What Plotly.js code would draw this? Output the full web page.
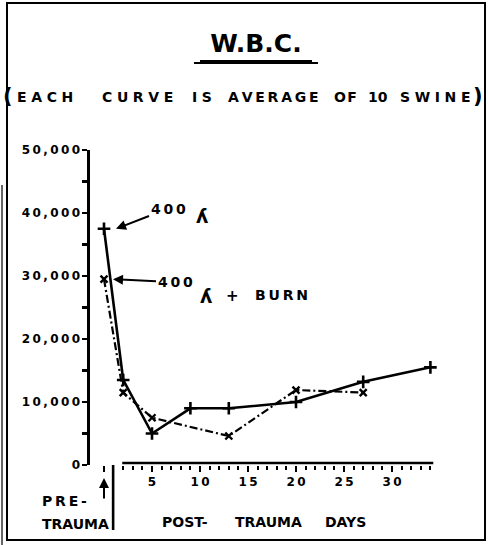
<!DOCTYPE html>
<html>
<head>
<meta charset="utf-8">
<script src="https://cdn.plot.ly/plotly-3.0.1.min.js"></script>
<style>html,body{margin:0;padding:0;background:#fff;}#chart{width:488px;height:545px;}</style>
</head>
<body>
<div id="chart"></div>
<script>
// ---- data ----
const days400r = [0, 2, 5, 9, 13, 20, 27, 34];
const wbc400r = [37500, 13500, 5000, 9000, 9000, 10000, 13200, 15500];
const daysBurn = [0, 2, 5, 13, 20, 27];
const wbcBurn = [29500, 11500, 7500, 4600, 11900, 11500];
const yTickVals = [0, 10000, 20000, 30000, 40000, 50000];
const yTickText = ['0', '10,000', '20,000', '30,000', '40,000', '50,000'];
const yMinorVals = [5000, 15000, 25000, 35000, 45000];
const xTickVals = [0, 5, 10, 15, 20, 25, 30];
const xTickText = ['', '5', '10', '15', '20', '25', '30'];
const xMinorVals = [2,3,4,5,6,7,8,9,10,11,12,13,14,15,16,17,18,19,20,21,22,23,24,25,26,27,28,29,30,31,32,33,34];
const titleText = 'W.B.C.';
const subtitleWords = ['EACH', 'CURVE', 'IS', 'AVERAGE', 'OF', '10', 'SWINE'];
const label400 = '400';
const unitR = 'ʎ';
const burnText = 'BURN';
const xAxisWords = ['POST-', 'TRAUMA', 'DAYS'];
const preWords = ['PRE-', 'TRAUMA'];

// ---- layout helpers (pixel -> paper) ----
const L = 90, T = 150, W = 360, H = 315;
const PX = x => (x - L) / W;
const PY = y => (T + H - y) / H;
const gap = ch => s => s.split('').join(ch);
const thin = gap('\u2009');
const third = gap('\u2004');
const hair = gap('\u200A');
const none = s => s;
const FONT = 'DejaVu Sans';
const bold = s => '<b>' + s + '</b>';

const traces = [
  {
    x: days400r, y: wbc400r, type: 'scatter', mode: 'lines+markers',
    line: {color: '#000', width: 2.6},
    marker: {symbol: 'cross-thin', size: 9, color: '#000', line: {color: '#000', width: 2.6}},
    cliponaxis: false, showlegend: false, hoverinfo: 'skip'
  },
  {
    x: daysBurn, y: wbcBurn, type: 'scatter', mode: 'lines+markers',
    line: {color: '#000', width: 2.2, dash: '8px,3px,2px,3px'},
    marker: {symbol: 'x-thin', size: 7, color: '#000', line: {color: '#000', width: 2.4}},
    cliponaxis: false, showlegend: false, hoverinfo: 'skip'
  }
];

const annotations = [];
function txt(text, px, py, size, anchor) {
  annotations.push({
    text: bold(text), xref: 'paper', yref: 'paper', x: PX(px), y: PY(py),
    xanchor: anchor || 'center', yanchor: 'middle', showarrow: false, borderpad: 0,
    font: {family: FONT, size: size, color: '#000'}
  });
}
// subtitle
const subCenters = [45, 137, 202, 273, 345, 378, 435];
const subSpacing = [third, third, third, thin, hair, none, third];
subtitleWords.forEach((w, i) => txt(subSpacing[i](w), subCenters[i], 97, 14));
txt('(', 8, 96, 21);
txt(')', 478, 96, 21);
// bottom labels
txt(xAxisWords[0], 185, 522, 14);
txt(xAxisWords[1], 268, 522, 14);
txt(xAxisWords[2], 345, 522, 14);
txt(thin(preWords[0]), 41, 501, 14, 'left');
txt(preWords[1], 41, 524, 14, 'left');
// curve labels with arrows
annotations.push({
  text: bold(thin(label400)), x: days400r[0], y: wbc400r[0], xref: 'x', yref: 'y',
  ax: 165 - 113, ay: 207 - 227, xshift: 12, showarrow: true, arrowhead: 2, arrowsize: 1,
  arrowwidth: 2, arrowcolor: '#000', font: {family: FONT, size: 14, color: '#000'}
});
annotations.push({
  text: bold(thin(label400)), x: daysBurn[0], y: wbcBurn[0], xref: 'x', yref: 'y',
  ax: 172 - 110, ay: 286 - 283, xshift: 9, showarrow: true, arrowhead: 2, arrowsize: 1,
  arrowwidth: 2, arrowcolor: '#000', font: {family: FONT, size: 14, color: '#000'}
});
txt(unitR, 202, 216, 19);
txt(unitR, 206, 296, 19);
txt('+', 232, 296, 15);
txt(thin(burnText), 281, 295, 14);
// pre-trauma up arrow
annotations.push({
  text: '', x: 0, y: PY(478), xref: 'x', yref: 'paper', ax: 0, ay: 22,
  showarrow: true, arrowhead: 2, arrowsize: 1, arrowwidth: 2, arrowcolor: '#000'
});

const shapes = [
  // x-axis baseline (post-trauma only)
  {type: 'line', xref: 'x', yref: 'paper', x0: 1.9, x1: 34.3, y0: PY(463), y1: PY(463), line: {color: '#000', width: 2.6}},
  // separator between pre and post trauma
  {type: 'line', xref: 'x', yref: 'paper', x0: 0.95, x1: 0.95, y0: PY(465), y1: PY(530), line: {color: '#000', width: 2.6}},
  // title underline
  {type: 'line', xref: 'paper', yref: 'paper', x0: PX(194), x1: PX(318), y0: PY(63), y1: PY(63), line: {color: '#000', width: 2}},
  {type: 'line', xref: 'paper', yref: 'paper', x0: PX(200), x1: PX(312), y0: PY(62), y1: PY(62), line: {color: '#000', width: 4}},
  // frame
  {type: 'rect', xref: 'paper', yref: 'paper', x0: PX(7), x1: PX(485), y0: PY(3), y1: PY(540), line: {color: '#000', width: 2}},
  {type: 'line', xref: 'paper', yref: 'paper', x0: PX(2), x1: PX(2), y0: PY(185), y1: PY(545), line: {color: '#333', width: 1.5}}
];

const layout = {
  width: 488, height: 545,
  margin: {l: L, r: 488 - L - W, t: T, b: 545 - T - H, pad: 0},
  paper_bgcolor: '#fff', plot_bgcolor: '#fff',
  showlegend: false,
  title: {
    text: bold(titleText), x: 256 / 488, xanchor: 'center', xref: 'container',
    y: 1 - 43 / 545, yanchor: 'middle', yref: 'container',
    font: {family: FONT, size: 25, color: '#000'}
  },
  xaxis: {
    range: [-14 / 9.6, -14 / 9.6 + W / 9.6], showgrid: false, zeroline: false, showline: false,
    tickmode: 'array', tickvals: xTickVals, ticktext: xTickText.map(s => bold(thin(s))),
    ticks: 'outside', ticklen: 6, tickwidth: 2, tickcolor: '#000',
    minor: {tickmode: 'array', tickvals: xMinorVals, ticks: 'outside', ticklen: 4, tickwidth: 2, tickcolor: '#000', showgrid: false},
    tickfont: {family: FONT, size: 12, color: '#000'}, fixedrange: true
  },
  yaxis: {
    range: [0, 50000], showgrid: false, zeroline: false, showline: true, linecolor: '#000', linewidth: 2.6,
    tickmode: 'array', tickvals: yTickVals, ticktext: yTickText.map(s => bold(thin(s))),
    ticks: 'outside', ticklen: 5, tickwidth: 2.4, tickcolor: '#000',
    minor: {tickmode: 'array', tickvals: yMinorVals, ticks: 'outside', ticklen: 5, tickwidth: 2.4, tickcolor: '#000', showgrid: false},
    tickfont: {family: FONT, size: 12, color: '#000'}, fixedrange: true
  },
  annotations: annotations,
  shapes: shapes
};

Plotly.newPlot('chart', traces, layout, {staticPlot: true, displayModeBar: false});
</script>
</body>
</html>
